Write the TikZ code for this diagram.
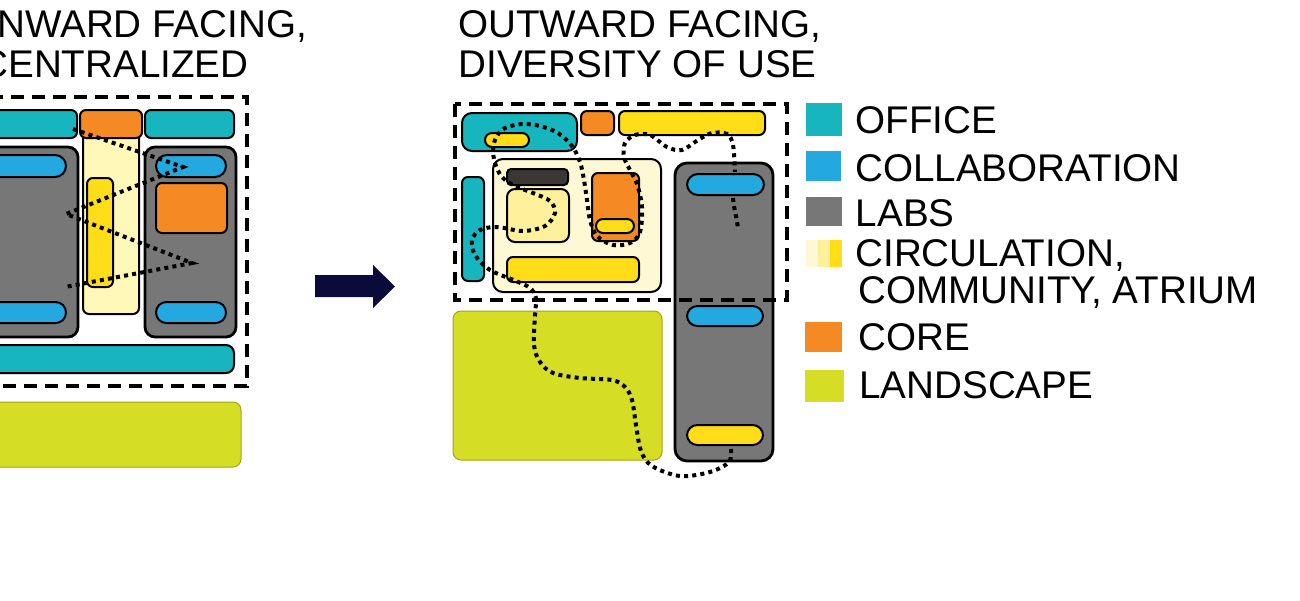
\documentclass[tikz,border=0pt]{standalone}
\usepackage{fontspec}
\setmainfont{Liberation Sans}
\definecolor{office}{HTML}{17B6BE}
\definecolor{collab}{HTML}{24A8E0}
\definecolor{labs}{HTML}{777777}
\definecolor{circA}{HTML}{FFF8D4}
\definecolor{circB}{HTML}{FFF19C}
\definecolor{circC}{HTML}{FFDD18}
\definecolor{circL}{HTML}{FFF8B8}
\definecolor{core}{HTML}{F58A25}
\definecolor{land}{HTML}{D5DD25}
\definecolor{navy}{HTML}{0B0B3B}
\definecolor{darkbar}{HTML}{3B3735}
\tikzset{
  box/.style={draw=black, line width=1pt},
  labbox/.style={draw=black, line width=1.4pt, fill=labs, rounded corners=5pt},
  pill/.style={draw=black, line width=1pt, rounded corners=#1},
  landbox/.style={draw=land!75!black, line width=0.5pt, fill=land, rounded corners=4pt},
  walk/.style={line width=2pt, dash pattern=on 2pt off 2.1pt},
  plandash/.style={line width=1.9pt, dash pattern=on 6.5pt off 4pt},
  lbl/.style={anchor=base west, inner sep=0pt, font=\fontsize{19.3}{22}\selectfont},
}
\begin{document}
\begin{tikzpicture}[x=0.5pt,y=-0.5pt]
\useasboundingbox (0,0) rectangle (1300,600);
\clip (0,0) rectangle (1300,600);

% ---------- left plan: inward facing ----------
\node[lbl] (t1a) at (-3,37) {NWARD FACING,};
\node[lbl] (t1b) at (-20,77) {CENTRALIZED};

\draw[box, fill=circL, rounded corners=3pt] (83,130) rectangle (139,314);
\draw[box, fill=circC, rounded corners=3pt] (87,178) rectangle (113,287);
\draw[box, fill=office, rounded corners=3pt] (-30,110) rectangle (77,138);
\draw[box, fill=core, rounded corners=3pt] (80,110) rectangle (142,138);
\draw[box, fill=office, rounded corners=3pt] (145,110) rectangle (234,138);

\draw[labbox] (-30,147) rectangle (78,337);
\draw[pill=5.5pt, fill=collab] (-30,155) rectangle (66,177);
\draw[pill=5.2pt, fill=collab] (-30,302) rectangle (66,323);

\draw[labbox] (145,147) rectangle (236,337);
\draw[pill=5.5pt, fill=collab] (156,155) rectangle (226,177);
\draw[box, fill=core, rounded corners=3pt] (156,183) rectangle (227,233);
\draw[pill=5.2pt, fill=collab] (156,302) rectangle (226,323);

\draw[box, fill=office, rounded corners=4pt] (-30,345) rectangle (234,373);
\draw[landbox] (-30,402) rectangle (241,467);

\draw[walk] (73,129) -- (183,167) -- (66,214) -- (192,263) -- (65,287);

\draw[plandash] (-10,97) -- (247,97) -- (247,386) -- (-10,386);

% ---------- arrow ----------
\fill[navy] (315,275) -- (373,275) -- (373,265) -- (395,286.5) -- (373,308)
  -- (373,297) -- (315,297) -- cycle;

% ---------- right plan: outward facing ----------
\node[lbl] (t2a) at (458,37) {OUTWARD FACING,};
\node[lbl] (t2b) at (458,77) {DIVERSITY OF USE};

\draw[box, fill=office, rounded corners=5pt] (462,113) rectangle (577,151);
\draw[pill=3.5pt, fill=circC] (485,133) rectangle (529,147);
\draw[box, fill=core, rounded corners=3pt] (581,111) rectangle (614,135);
\draw[box, fill=circC, rounded corners=3pt] (619,111) rectangle (765,135);
\draw[box, fill=office, rounded corners=3pt] (462,177) rectangle (484,281);

\draw[box, fill=circA, rounded corners=5pt] (493,159) rectangle (661,292);
\draw[box, fill=darkbar, rounded corners=2pt] (507,169) rectangle (568,185);
\draw[box, fill=circB, rounded corners=4pt] (507,189) rectangle (569,242);
\draw[box, fill=core, rounded corners=3pt] (592,173) rectangle (639,241);
\draw[pill=3.5pt, fill=circC] (596,219) rectangle (634,233);
\draw[box, fill=circC, rounded corners=3pt] (507,257) rectangle (639,282);

\draw[landbox] (453,311) rectangle (662,460);
\draw[labbox, rounded corners=6pt] (675,163) rectangle (773,461);
\draw[pill=5.2pt, fill=collab] (687,306) rectangle (763,326);
\draw[pill=5.2pt, fill=circC] (687,425) rectangle (763,445);

\draw[walk] plot[smooth, tension=0.55] coordinates {
 (731,449) (729,462) (710,472) (680,476) (652,466) (641,451) (636,425) (632,400)
 (625,387) (612,380) (580,378) (553,373) (540,362) (534,345) (535,315) (536,298)
 (530,288) (516,281) (490,270) (475,255) (472,240) (480,230) (497,227) (523,231)
 (545,226) (555,213) (550,201) (533,193) (515,186) (502,177) (495,163) (493,148)
 (497,136) (505,128) (522,124) (540,126) (558,133) (572,146) (580,162) (584,180)
 (587,200) (590,220) (597,236) (613,245) (630,243) (640,232) (642,207) (637,184)
 (630,170) (624,157) (625,143) (635,135) (650,135) (667,147) (682,150) (698,140)
 (712,133) (727,134) (733,145) (735,172)};
\draw[walk] (733,198) .. controls (734,210) and (737,218) .. (738,229);
\draw[pill=5.5pt, fill=collab] (687,174) rectangle (764,195);

\draw[plandash] (455,104) rectangle (787,300);

% ---------- legend ----------
\fill[office] (806,103) rectangle (842,136);
\node[lbl] (l1) at (855,133) {OFFICE};
\fill[collab] (806,151) rectangle (841,181);
\node[lbl] (l2) at (855,181) {COLLABORATION};
\fill[labs] (806,197) rectangle (842,226);
\node[lbl] (l3) at (855.5,226) {LABS};
\fill[circA] (806,240) rectangle (818,267);
\fill[circB] (818,240) rectangle (830,267);
\fill[circC] (830,240) rectangle (842,267);
\node[lbl] (l4a) at (855,266) {CIRCULATION,};
\node[lbl] (l4b) at (858,303) {COMMUNITY, ATRIUM};
\fill[core] (805,322) rectangle (842,352);
\node[lbl] (l5) at (858,350) {CORE};
\fill[land] (805,370) rectangle (844,402);
\node[lbl] (l6) at (859,398) {LANDSCAPE};
\end{tikzpicture}
\end{document}
